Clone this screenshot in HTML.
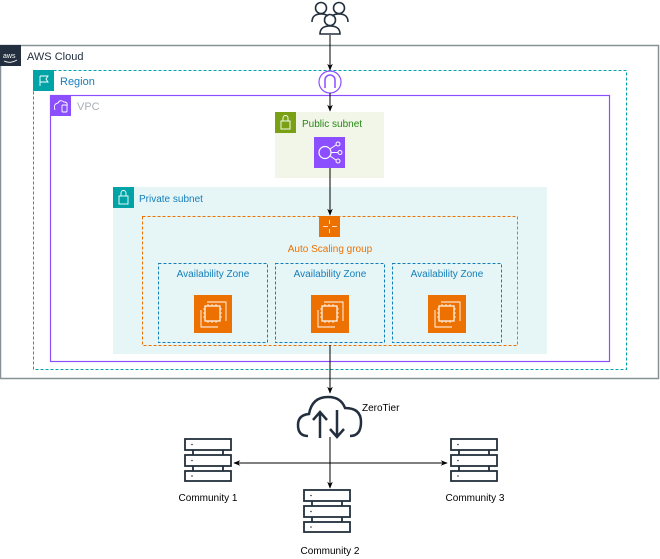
<!DOCTYPE html>
<html><head><meta charset="utf-8"><style>
html,body{margin:0;padding:0;background:#fff;width:660px;height:559px;overflow:hidden}
text{font-family:"Liberation Sans",Arial,sans-serif;font-size:10px}
</style></head><body>
<svg width="660" height="559" viewBox="0 0 660 559" xmlns="http://www.w3.org/2000/svg">
<defs>
<marker id="ar" viewBox="0 0 10 10" refX="9" refY="5" markerWidth="7" markerHeight="7" orient="auto-start-reverse"><path d="M0,1 L10,5 L0,9 L3,5 Z" fill="#000"/></marker>
</defs>
<rect x="0.5" y="45.5" width="658" height="333" fill="none" stroke="#879196" stroke-width="1.5"/>
<rect x="0" y="45" width="21" height="21" fill="#232f3e"/>
<text x="3" y="58" fill="#fff" style="font-size:7px">aws</text>
<path d="M4,61 Q10,64 17,60" stroke="#fff" fill="none" stroke-width="0.8"/>
<text x="27" y="60" fill="#232f3e" style="font-size:11px">AWS Cloud</text>
<rect x="33.5" y="70.5" width="593" height="299" fill="none" stroke="#00a4a6" stroke-dasharray="3,2"/>
<rect x="33" y="70" width="21" height="21" fill="#00a4a6"/>
<path d="M40,76 V86 M40,76 H48 L46,79 L48,82 H40" stroke="#fff" fill="none" stroke-width="0.9"/>
<text x="60" y="85" fill="#147eba" style="font-size:11px">Region</text>
<rect x="50.5" y="95.5" width="559" height="266" fill="none" stroke="#8c4fff" stroke-width="1.2"/>
<rect x="50" y="95" width="21" height="21" fill="#8c4fff"/>
<path d="M55,110 Q53,104 58,103 Q60,99 64,102 Q68,102 67,106" stroke="#fff" fill="none" stroke-width="0.9"/>
<rect x="62" y="105" width="5" height="7" rx="1" fill="none" stroke="#fff" stroke-width="0.9"/>
<text x="77" y="110" fill="#aab0b5" style="font-size:11px">VPC</text>
<rect x="275" y="112" width="109" height="66" fill="#f2f6e8"/>
<rect x="275" y="112" width="21" height="21" fill="#7aa116"/>
<rect x="281" y="121" width="9" height="8" fill="none" stroke="#fff" stroke-width="0.9"/>
<path d="M283,121 V118 A2.5,2.5 0 0 1 288,118 V121" stroke="#fff" fill="none" stroke-width="0.9"/>
<text x="302" y="127" fill="#248814" style="font-size:10px">Public subnet</text>
<rect x="314" y="137" width="31" height="31" fill="#8c4fff"/>
<circle cx="325" cy="152.5" r="6" fill="none" stroke="#fff" stroke-width="1.2"/>
<circle cx="338" cy="144" r="2" fill="none" stroke="#fff"/>
<circle cx="340" cy="152.5" r="2" fill="none" stroke="#fff"/>
<circle cx="338" cy="161" r="2" fill="none" stroke="#fff"/>
<path d="M330,149 L336,145 M331,152.5 H338 M330,156 L336,160" stroke="#fff"/>
<rect x="113" y="187" width="434" height="167" fill="#e6f6f7"/>
<rect x="113" y="187" width="21" height="21" fill="#00a4a6"/>
<rect x="119" y="196" width="9" height="8" fill="none" stroke="#fff" stroke-width="0.9"/>
<path d="M121,196 V193 A2.5,2.5 0 0 1 126,193 V196" stroke="#fff" fill="none" stroke-width="0.9"/>
<text x="139" y="202" fill="#147eba" style="font-size:10px">Private subnet</text>
<rect x="142.5" y="216.5" width="375" height="129" fill="none" stroke="#ed7100" stroke-dasharray="3,2"/>
<rect x="319" y="216" width="21" height="21" fill="#ed7100"/>
<path d="M323,226.5 H328 M332,226.5 H337 M329.5,220 V224 M329.5,229 V233" stroke="#fff" stroke-width="0.8"/>
<text x="330" y="252" fill="#ed7100" text-anchor="middle" style="font-size:10px">Auto Scaling group</text>
<g fill="none" stroke="#147eba" stroke-dasharray="3,2">
<rect x="158.5" y="263.5" width="109" height="79"/>
<rect x="275.5" y="263.5" width="109" height="79"/>
<rect x="392.5" y="263.5" width="109" height="79"/>
</g>
<g fill="#147eba" text-anchor="middle" style="font-size:10px">
<text x="213" y="277">Availability Zone</text>
<text x="330" y="277">Availability Zone</text>
<text x="447" y="277">Availability Zone</text>
</g>
<g id="ec2">
<rect x="194" y="295" width="38" height="38" fill="#ed7100"/>
<path d="M207,302 H226 V321 M201,310 V327 H218" stroke="#fff" fill="none" stroke-width="0.9"/>
<rect x="205" y="306" width="15" height="15" fill="none" stroke="#fff" stroke-width="1.2"/>
<path d="M208,304 V306 M212,304 V306 M216,304 V306 M208,321 V323 M212,321 V323 M216,321 V323 M203,309 H205 M203,313 H205 M203,317 H205 M220,309 H222 M220,313 H222 M220,317 H222" stroke="#fff" stroke-width="0.8"/>
</g>
<use href="#ec2" x="117"/>
<use href="#ec2" x="234"/>
<g fill="none" stroke="#232f3e" stroke-width="1.6">
<circle cx="321" cy="8" r="5.5"/><path d="M312,22 Q312,14 321,14 Q326,14 328,16"/>
<circle cx="339" cy="8" r="5.5"/><path d="M348,22 Q348,14 339,14 Q334,14 332,16"/>
<circle cx="330" cy="20" r="5.5"/><path d="M320,34 Q320,26 330,26 Q340,26 340,34 Z"/>
</g>
<circle cx="330" cy="82" r="11" fill="#fff" stroke="#8c4fff" stroke-width="1.2"/>
<path d="M325,88 V80 A5,5 0 0 1 335,80 V88" fill="none" stroke="#8c4fff" stroke-width="1.5"/>
<g stroke="#000" stroke-width="1" fill="none">
<line x1="330" y1="35" x2="330" y2="70" marker-end="url(#ar)"/>
<line x1="330" y1="93" x2="330" y2="111" marker-end="url(#ar)"/>
<line x1="330" y1="168" x2="330" y2="215" marker-end="url(#ar)"/>
<line x1="330" y1="345" x2="330" y2="393" marker-end="url(#ar)"/>
<line x1="330" y1="437" x2="330" y2="488" marker-end="url(#ar)"/>
<line x1="234" y1="463" x2="447" y2="463" marker-start="url(#ar)" marker-end="url(#ar)"/>
</g>
<path d="M308,436 Q298,436 298,425 Q298,415 309,414 Q312,397 328,397 Q341,397 345,408 Q361,408 361,422 Q361,436 350,436" fill="none" stroke="#232f3e" stroke-width="2.5"/>
<path d="M320,438 V413 M313,420 L320,412 L327,420 M337,410 V437 M330,429 L337,437 L344,429" fill="none" stroke="#232f3e" stroke-width="2.5"/>
<text x="362" y="411" fill="#000" style="font-size:10px">ZeroTier</text>
<g id="srv" fill="#fff" stroke="#232f3e" stroke-width="1.8">
<rect x="185" y="439" width="46" height="11"/>
<rect x="185" y="455" width="46" height="11"/>
<rect x="185" y="471" width="46" height="10"/>
<path d="M193,450 V455 M223,450 V455 M193,466 V471 M223,466 V471"/>
<circle cx="192" cy="444.5" r="0.8" fill="#232f3e" stroke="none"/>
<circle cx="192" cy="460.5" r="0.8" fill="#232f3e" stroke="none"/>
<circle cx="192" cy="476" r="0.8" fill="#232f3e" stroke="none"/>
</g>
<use href="#srv" x="266"/>
<use href="#srv" x="119" y="51"/>
<g fill="#000" text-anchor="middle" style="font-size:9px">
<text x="208" y="501">Community 1</text>
<text x="475" y="501">Community 3</text>
<text x="330" y="554">Community 2</text>
</g>
</svg>
</body></html>
